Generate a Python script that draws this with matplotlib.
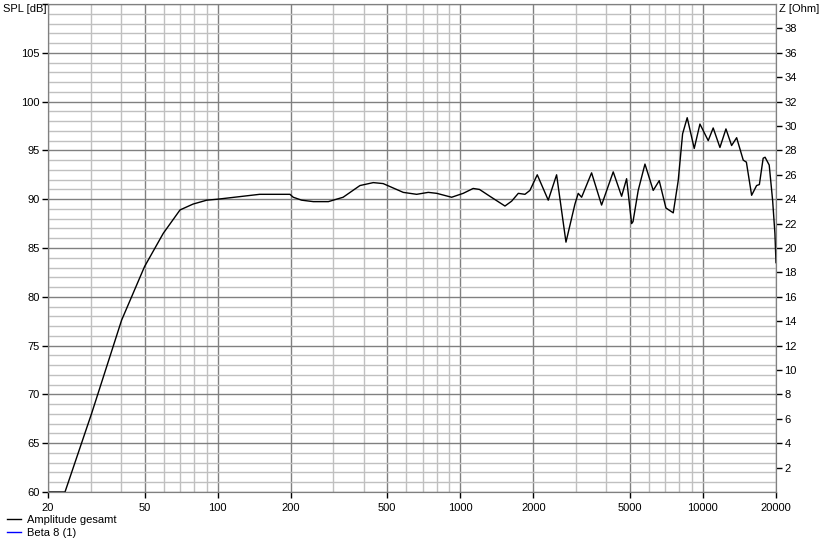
import matplotlib
matplotlib.use("Agg")
import matplotlib.pyplot as plt
from matplotlib.ticker import FixedLocator, NullFormatter

# SPL of the whole system
freq = [20, 23.5, 30.3, 40.2, 50, 59.7, 70, 79.2, 90.2, 100, 149, 198.6, 205, 222,
        248, 286, 329, 386, 438, 481, 582, 661, 738, 800, 921, 1028, 1130, 1200,
        1324, 1528, 1628, 1734, 1847, 1936, 2076, 2304, 2494, 2726, 2968, 3062,
        3162, 3476, 3822, 4268, 4622, 4846, 5082, 5150, 5410, 5768, 6238, 6604,
        7038, 7544, 7908, 8244, 8612, 9206, 9718, 10512, 11020, 11748, 12438,
        13124, 13768, 14656, 15100, 15870, 16636, 17080, 17706, 18030, 18750,
        19366, 19794, 20000]
spl = [60.0, 60.0, 68.1, 77.6, 83.1, 86.5, 88.9, 89.5, 89.9, 90.0, 90.5, 90.5, 90.2,
       89.9, 89.75, 89.75, 90.2, 91.4, 91.7, 91.6, 90.7, 90.5, 90.7, 90.6, 90.2,
       90.6, 91.1, 91.0, 90.3, 89.3, 89.8, 90.6, 90.5, 90.9, 92.5, 89.9, 92.5,
       85.6, 89.5, 90.6, 90.2, 92.7, 89.4, 92.8, 90.3, 92.1, 87.5, 87.7, 90.9,
       93.6, 90.9, 91.9, 89.1, 88.6, 91.9, 96.7, 98.35, 95.2, 97.7, 96.0, 97.3,
       95.3, 97.2, 95.5, 96.3, 94.0, 93.8, 90.4, 91.4, 91.5, 94.2, 94.3, 93.5,
       89.9, 86.5, 83.5]

# driver impedance (not shown in the picture)
beta8_freq = []
beta8_z = []

xticks = [20, 50, 100, 200, 500, 1000, 2000, 5000, 10000, 20000]
xminor = [d * m for d in (10, 100, 1000) for m in (3, 4, 6, 7, 8, 9)]

plt.rcParams["font.family"] = ["Liberation Sans", "DejaVu Sans"]
fig = plt.figure(figsize=(8.25, 5.44), dpi=100)
ax = fig.add_axes([48 / 825, 1 - 492 / 544, 728 / 825, 488 / 544])

major_c = "#808080"
minor_c = "#c0c0c0"
fs = 8

ax.set_xscale("log")
ax.set_xlim(20, 20000)
ax.set_ylim(60, 110)
ax.xaxis.set_major_locator(FixedLocator(xticks))
ax.xaxis.set_minor_locator(FixedLocator(xminor))
ax.xaxis.set_minor_formatter(NullFormatter())
ax.set_xticklabels([str(t) for t in xticks])
ax.yaxis.set_major_locator(FixedLocator(list(range(60, 111, 5))))
ax.yaxis.set_minor_locator(FixedLocator([v for v in range(60, 111) if v % 5]))
ax.set_yticklabels([str(v) if v < 110 else "" for v in range(60, 111, 5)])

ax.grid(True, which="major", color=major_c, lw=1.0)
ax.grid(True, which="minor", color=minor_c, lw=1.0)
ax.set_axisbelow(True)
ax.tick_params(which="major", direction="out", length=4, width=1, color="black",
               labelsize=fs, pad=2)
ax.tick_params(which="minor", length=0)
ax.tick_params(axis="x", pad=4)
for s in ax.spines.values():
    s.set_color(major_c)

line1, = ax.plot(freq, spl, color="black", lw=1.0)

ax2 = ax.twinx()
ax2.set_ylim(0, 40)
ax2.yaxis.set_major_locator(FixedLocator(list(range(2, 39, 2))))
ax2.tick_params(direction="out", length=4, width=1, color="black", labelsize=fs, pad=2)
for s in ax2.spines.values():
    s.set_color(major_c)
line2, = ax2.plot(beta8_freq, beta8_z, color="blue", lw=1.0)

fig.text(3 / 825, 1 - 9 / 544, "SPL [dB]", fontsize=fs, va="center", ha="left")
fig.text(779 / 825, 1 - 9 / 544, "Z [Ohm]", fontsize=fs, va="center", ha="left")

fig.legend([line1, line2], ["Amplitude gesamt", "Beta 8 (1)"], loc="upper left",
           bbox_to_anchor=(7 / 825, 1 - 515 / 544), frameon=False, fontsize=fs,
           handlelength=1.3, handletextpad=0.5, labelspacing=0.25, borderpad=0,
           borderaxespad=0)

fig.savefig("out.png", dpi=100, facecolor="white")
